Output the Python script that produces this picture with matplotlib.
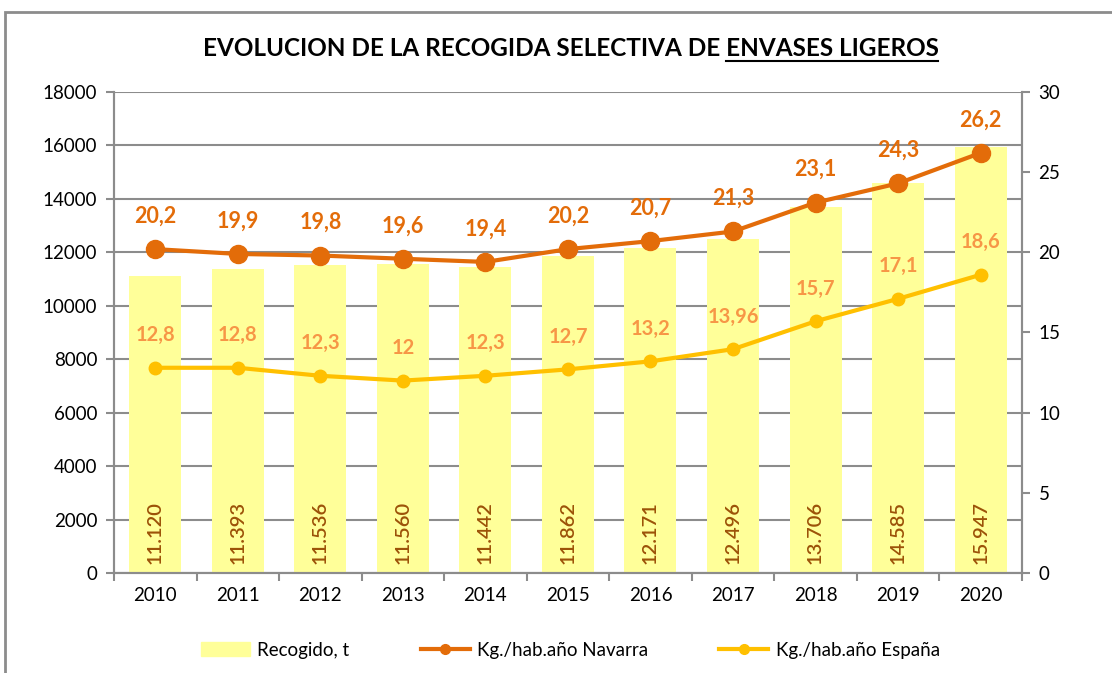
import numpy as np
import matplotlib.pyplot as plt
from matplotlib.patches import Rectangle
from matplotlib.lines import Line2D

plt.rcParams['font.family'] = ['Lato', 'DejaVu Sans']

# datos
years = ['2010', '2011', '2012', '2013', '2014', '2015', '2016', '2017', '2018', '2019', '2020']
recogido = [11120, 11393, 11536, 11560, 11442, 11862, 12171, 12496, 13706, 14585, 15947]
navarra = [20.2, 19.9, 19.8, 19.6, 19.4, 20.2, 20.7, 21.3, 23.1, 24.3, 26.2]
espana = [12.8, 12.8, 12.3, 12, 12.3, 12.7, 13.2, 13.96, 15.7, 17.1, 18.6]

c_bar = '#FFFF99'
c_nav = '#E36C09'
c_esp = '#FFC000'
c_esp_lab = '#F79646'
c_bar_lab = '#9C5208'
c_grid = '#8C8C8C'


def fmt_es(v):
    s = ('%g' % v).replace('.', ',')
    return s


def fmt_miles(v):
    return '{:,}'.format(v).replace(',', '.')


fig = plt.figure(figsize=(11.12, 6.73), dpi=100)
ax = fig.add_axes([0.1025, 0.1486, 0.8165, 0.7147])
ax2 = ax.twinx()

x = np.arange(len(years))
ax.bar(x, recogido, width=0.63, color=c_bar, zorder=2)
for xi, v in zip(x, recogido):
    ax.text(xi, 330, fmt_miles(v), rotation=90, ha='center', va='bottom',
            fontsize=14.5, color=c_bar_lab, fontweight='semibold')

ax.set_ylim(0, 18000)
ax.set_yticks(np.arange(0, 18001, 2000))
ax.set_xlim(-0.5, len(years) - 0.5)
ax.set_xticks(x)
ax.set_xticklabels(years)
ax.set_xticks(np.arange(-0.5, len(years), 1), minor=True)
ax.tick_params(axis='x', which='major', length=0, pad=10, labelsize=13.5)
ax.tick_params(axis='x', which='minor', length=6, color=c_grid, width=1.5)
ax.tick_params(axis='y', length=6, color=c_grid, width=1.5, labelsize=13.5, pad=6)
ax.grid(axis='y', color=c_grid, lw=1.5, zorder=0)
ax.set_axisbelow(True)

ax2.plot(x, navarra, '-o', color=c_nav, lw=3, ms=13, zorder=4)
ax2.plot(x, espana, '-o', color=c_esp, lw=3, ms=9, zorder=3)
for xi, v in zip(x, navarra):
    ax2.text(xi, v + 1.4, fmt_es(v), ha='center', va='bottom', fontsize=15.5,
             color=c_nav, fontweight='bold')
for xi, v in zip(x, espana):
    ax2.text(xi, v + 1.4, fmt_es(v), ha='center', va='bottom', fontsize=14.5,
             color=c_esp_lab, fontweight='bold')
ax2.set_ylim(0, 30)
ax2.set_yticks(np.arange(0, 31, 5))
ax2.tick_params(axis='y', length=6, color=c_grid, width=1.5, labelsize=13.5, pad=6)

for a in (ax, ax2):
    for s in ['top']:
        a.spines[s].set_visible(False)
    for s in ['left', 'right', 'bottom']:
        a.spines[s].set_color(c_grid)
        a.spines[s].set_linewidth(1.5)

# titulo con subrayado
title = 'EVOLUCION DE LA RECOGIDA SELECTIVA DE ENVASES LIGEROS'
t = fig.text(0.513, 0.928, title, ha='center', va='center', fontsize=17.5,
             fontweight='bold', color='black')
fig.canvas.draw()
r = fig.canvas.get_renderer()
bb = t.get_window_extent(r)
tmp = fig.text(0, 0, 'ENVASES LIGEROS', fontsize=17.5, fontweight='bold')
wpart = tmp.get_window_extent(r).width
tmp.remove()
y_ul = (bb.y0 - 1) / fig.bbox.height
fig.add_artist(Line2D([(bb.x1 - wpart) / fig.bbox.width, bb.x1 / fig.bbox.width],
                      [y_ul, y_ul], color='black', lw=1.5))

# marco
fig.add_artist(Rectangle((0.0045, -0.05), 1.1, 1.032, transform=fig.transFigure,
                         fill=False, edgecolor='#8C8C8C', lw=2))

handles = [Rectangle((0, 0), 1, 1, color=c_bar),
           Line2D([], [], color=c_nav, lw=3, marker='o', ms=7),
           Line2D([], [], color=c_esp, lw=3, marker='o', ms=7)]
labels = ['Recogido, t', 'Kg./hab.año Navarra', 'Kg./hab.año España']
fig.legend(handles, labels, loc='center', bbox_to_anchor=(0.513, 0.034), ncol=3,
           frameon=False, fontsize=13.5, columnspacing=3.8, handlelength=2.6,
           handletextpad=0.4)

fig.savefig('out.png', dpi=100)
